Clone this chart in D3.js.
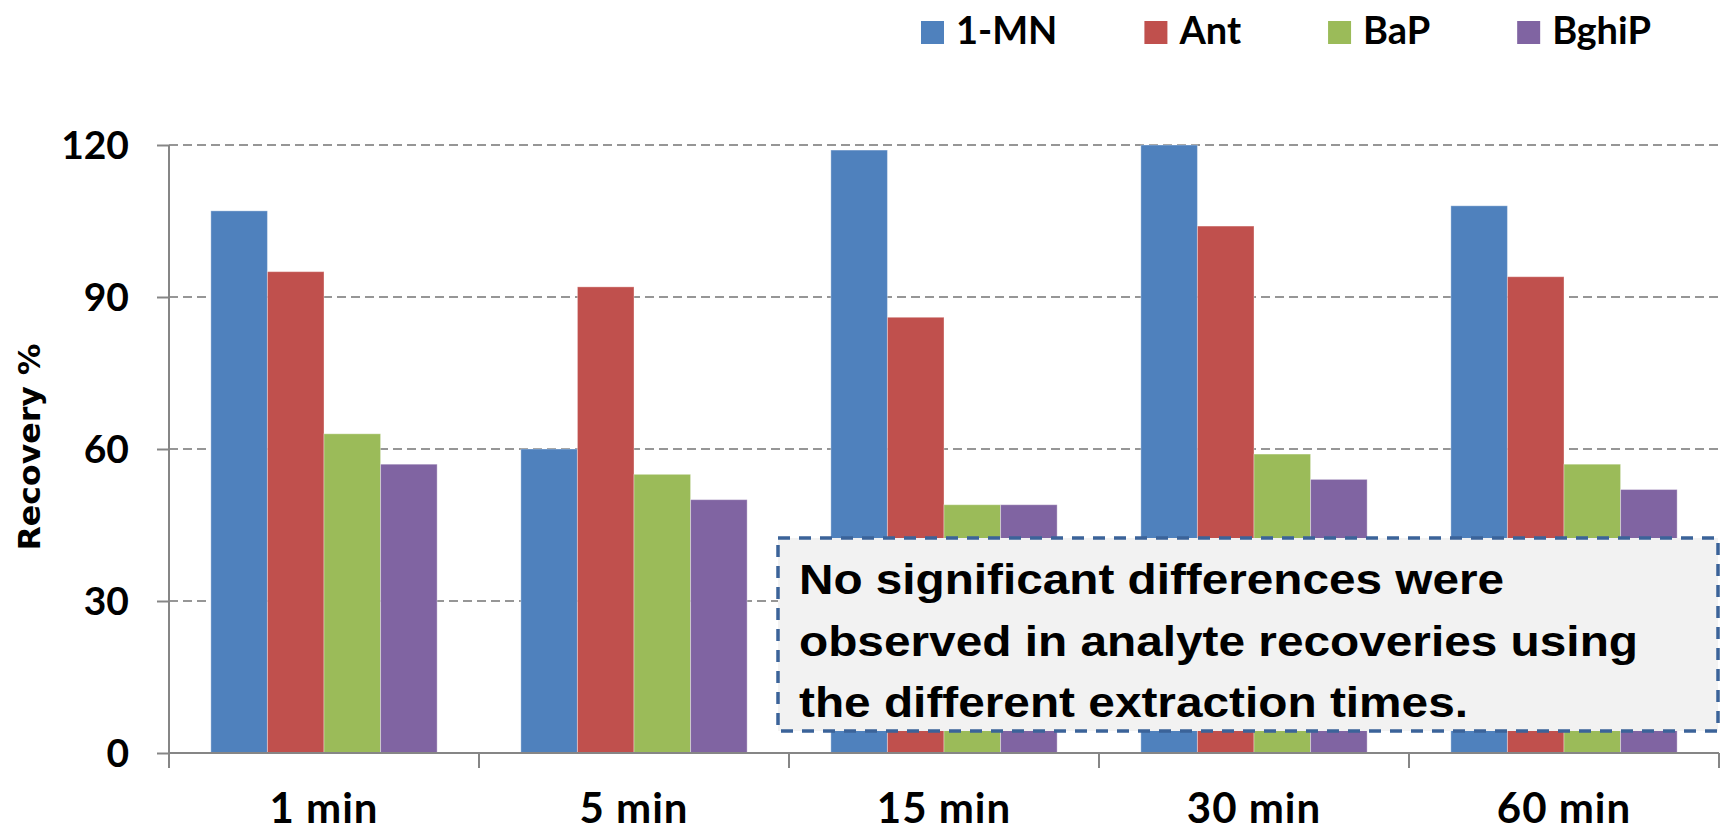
<!DOCTYPE html>
<html>
<head>
<meta charset="utf-8">
<script src="https://cdn.jsdelivr.net/npm/d3@7"></script>
<style>
  body { margin: 0; background: #fff; }
  svg { display: block; }
</style>
</head>
<body>
<div id="chart"></div>
<script>
// data
var categories = ["1 min", "5 min", "15 min", "30 min", "60 min"];
var seriesNames = ["1-MN", "Ant", "BaP", "BghiP"];
var mn1 = [107, 60, 119, 120, 108];
var ant = [95, 92, 86, 104, 94];
var bap = [63, 55, 49, 59, 57];
var bghip = [57, 50, 49, 54, 52];
var yTicks = [0, 30, 60, 90, 120];
var seriesColors = ["#4f81bd", "#c0504d", "#9bbb59", "#8064a2"];
var noteLines = [
    "No significant differences were",
    "observed in analyte recoveries using",
    "the different extraction times."
];

var W = 1722, H = 833;
var margin = {left: 169, right: 3, top: 145, bottom: 80};

var svg = d3.select("#chart").append("svg")
    .attr("width", W)
    .attr("height", H);

var x0 = d3.scaleBand()
    .domain(categories)
    .range([margin.left, W - margin.right])
    .padding(0);

var x1 = d3.scaleBand()
    .domain(seriesNames)
    .range([0, x0.bandwidth()])
    .paddingInner(0)
    .paddingOuter(0.74);

var y = d3.scaleLinear()
    .domain([0, 120])
    .range([H - margin.bottom, margin.top]);

var series = [mn1, ant, bap, bghip];
var rows = [];
categories.forEach(function(c, i) {
    seriesNames.forEach(function(s, j) {
        rows.push({cat: c, name: s, value: series[j][i], color: seriesColors[j]});
    });
});

// gridlines
svg.append("g")
    .selectAll("line")
    .data(yTicks.filter(function(d) { return d > 0; }))
    .join("line")
    .attr("x1", margin.left)
    .attr("x2", W - margin.right)
    .attr("y1", function(d) { return y(d); })
    .attr("y2", function(d) { return y(d); })
    .attr("stroke", "#969696")
    .attr("stroke-width", 2)
    .attr("stroke-dasharray", "9,5");

// bars
svg.append("g")
    .selectAll("rect")
    .data(rows)
    .join("rect")
    .attr("x", function(d) { return x0(d.cat) + x1(d.name); })
    .attr("y", function(d) { return y(d.value); })
    .attr("width", x1.bandwidth())
    .attr("height", function(d) { return y(0) - y(d.value); })
    .attr("fill", function(d) { return d.color; })
    .attr("stroke", "rgba(255,255,255,0.35)")
    .attr("stroke-width", 1);

// y axis
var yAxis = svg.append("g")
    .attr("transform", "translate(" + margin.left + ",0)")
    .call(d3.axisLeft(y).tickValues(yTicks).tickSize(12).tickPadding(28));
yAxis.select(".domain").attr("stroke", "#868686").attr("stroke-width", 2)
    .attr("d", "M0," + y(120) + "V" + (y(0) + 15));
yAxis.selectAll(".tick line").attr("stroke", "#868686").attr("stroke-width", 2);
yAxis.selectAll(".tick text")
    .attr("font-family", "Lato, sans-serif")
    .attr("font-weight", "bold")
    .attr("font-size", 39)
    .attr("fill", "#000")
    .attr("dy", "0.35em");

// x axis
var xAxis = svg.append("g")
    .attr("transform", "translate(0," + y(0) + ")")
    .call(d3.axisBottom(x0).tickSize(0).tickPadding(0));
xAxis.select(".domain").attr("stroke", "#868686").attr("stroke-width", 2)
    .attr("d", "M" + margin.left + ",0H" + (W - margin.right));
xAxis.selectAll(".tick text")
    .attr("font-family", "Lato, sans-serif")
    .attr("font-weight", "bold")
    .attr("font-size", 42)
    .attr("letter-spacing", 1)
    .attr("fill", "#000")
    .attr("dy", 0)
    .attr("y", 70);
// category separators
svg.append("g")
    .selectAll("line")
    .data(categories)
    .join("line")
    .attr("x1", function(d) { return x0(d) + x0.bandwidth(); })
    .attr("x2", function(d) { return x0(d) + x0.bandwidth(); })
    .attr("y1", y(0))
    .attr("y2", y(0) + 15)
    .attr("stroke", "#868686")
    .attr("stroke-width", 2);

// y title
svg.append("text")
    .attr("transform", "translate(40,447) rotate(-90)")
    .attr("text-anchor", "middle")
    .attr("font-family", "'DejaVu Sans', sans-serif")
    .attr("font-weight", "bold")
    .attr("font-size", 31)
    .attr("textLength", 207)
    .attr("lengthAdjust", "spacingAndGlyphs")
    .text("Recovery %");

// legend
var legend = svg.append("g").attr("id", "legend");
var lx = 921;
seriesNames.forEach(function(s, i) {
    legend.append("rect")
        .attr("x", lx).attr("y", 21)
        .attr("width", 23).attr("height", 23)
        .attr("fill", seriesColors[i]);
    var t = legend.append("text")
        .attr("x", lx + 35).attr("y", 44)
        .attr("font-family", "Lato, sans-serif")
        .attr("font-weight", "bold")
        .attr("font-size", 38)
        .text(s);
    lx = lx + 35 + t.node().getComputedTextLength() + 87;
});

// note box
var note = svg.append("g");
note.append("rect")
    .attr("x", 778).attr("y", 538)
    .attr("width", 940).attr("height", 193)
    .attr("fill", "#f2f2f2")
    .attr("stroke", "#3b6399")
    .attr("stroke-width", 3.5)
    .attr("stroke-dasharray", "12,9");
var noteWidths = [705, 839, 669];
note.selectAll("text")
    .data(noteLines)
    .join("text")
    .attr("x", 799)
    .attr("y", function(d, i) { return 594 + i * 61.5; })
    .attr("font-family", "'Liberation Sans', Arial, sans-serif")
    .attr("font-weight", "bold")
    .attr("font-size", 43)
    .attr("textLength", function(d, i) { return noteWidths[i]; })
    .attr("lengthAdjust", "spacingAndGlyphs")
    .text(function(d) { return d; });
</script>
</body>
</html>
